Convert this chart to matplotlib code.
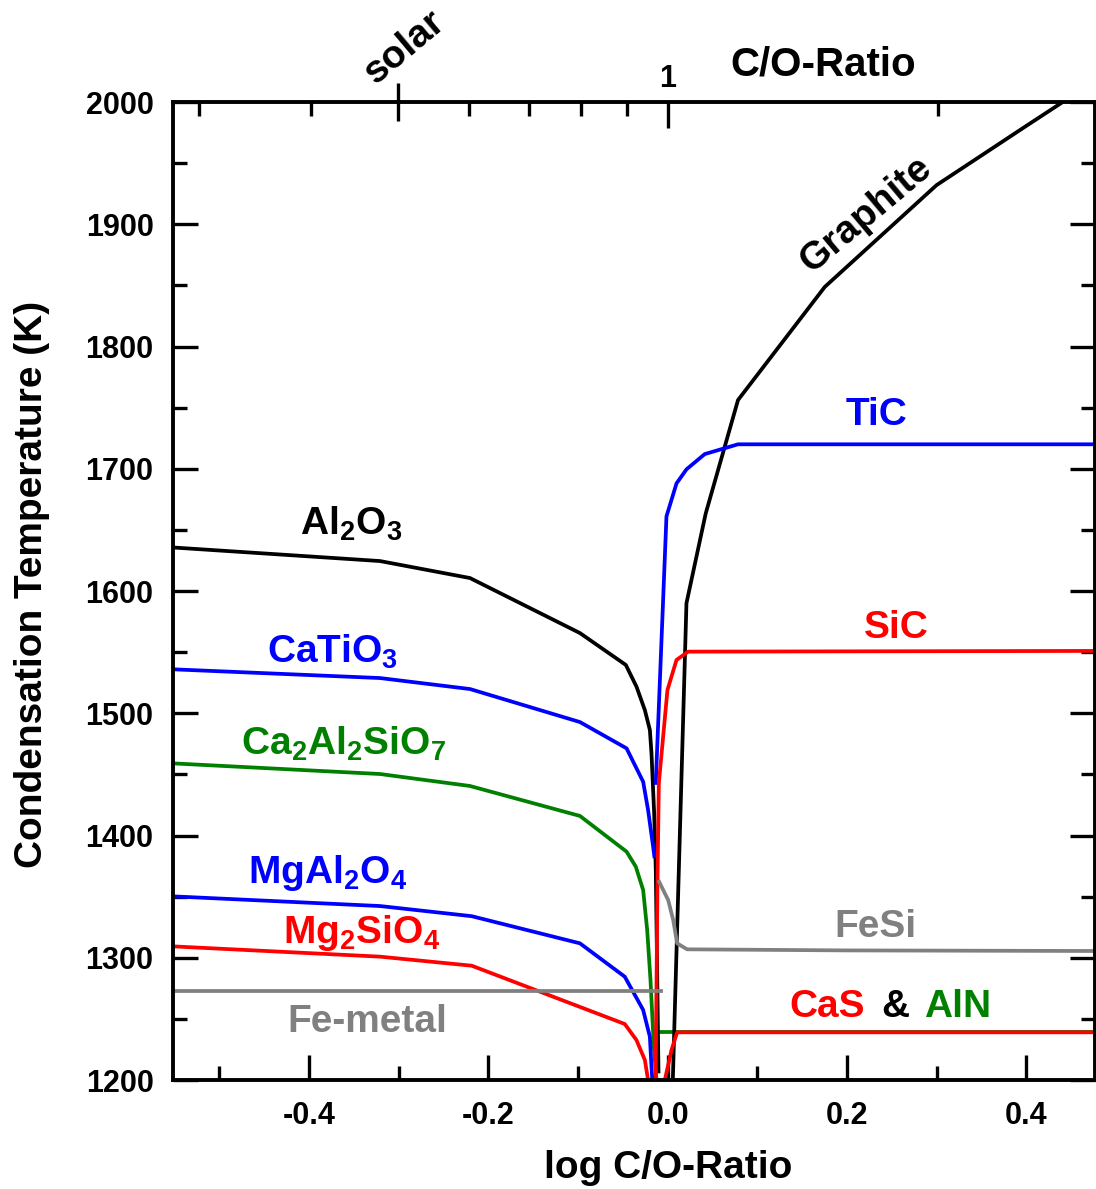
import matplotlib
matplotlib.use('Agg')
import matplotlib.pyplot as plt
from matplotlib.ticker import MultipleLocator, FixedLocator, FuncFormatter, NullFormatter
import numpy as np

plt.rcParams['font.family'] = ['Liberation Sans', 'DejaVu Sans']
plt.rcParams['font.weight'] = 'bold'
plt.rcParams['mathtext.fontset'] = 'custom'
plt.rcParams['mathtext.rm'] = 'Liberation Sans:bold'
plt.rcParams['mathtext.bf'] = 'Liberation Sans:bold'
plt.rcParams['mathtext.it'] = 'Liberation Sans:bold'
plt.rcParams['mathtext.default'] = 'bf'

# ---------------- data (log C/O, condensation temperature K) ----------------
al2o3_x = [-0.56, -0.321, -0.2206, -0.098, -0.0468, -0.0349, -0.0256, -0.020, -0.0182, -0.0152, -0.0134, -0.0104]
al2o3_T = [1636, 1624.5, 1610.6, 1565.6, 1539.5, 1521.7, 1502.6, 1486.3, 1467.2, 1418, 1371.8, 1207]

catio3_x = [-0.56, -0.321, -0.2206, -0.098, -0.046, -0.0368, -0.0275, -0.022, -0.0164, -0.0150]
catio3_T = [1536.2, 1528.8, 1519.8, 1492.8, 1471.3, 1457.7, 1444, 1420.9, 1391, 1383]

ca2al2sio7_x = [-0.56, -0.321, -0.2206, -0.098, -0.046, -0.0357, -0.0275, -0.0230, -0.0193, -0.0156, -0.0126]
ca2al2sio7_T = [1459.3, 1450.3, 1440.5, 1416, 1386.8, 1374.5, 1355.4, 1322.7, 1281.8, 1227.3, 1200]

mgal2o4_x = [-0.56, -0.321, -0.2187, -0.098, -0.048, -0.0275, -0.020, -0.018, -0.0172]
mgal2o4_T = [1350.5, 1342.3, 1334, 1311.8, 1284.5, 1257.3, 1235.4, 1208, 1200]

mg2sio4_x = [-0.56, -0.321, -0.2187, -0.048, -0.035, -0.0256, -0.022]
mg2sio4_T = [1309.6, 1300.9, 1293.5, 1245.8, 1232.7, 1216.4, 1200]

femetal_x = [-0.56, -0.008]
femetal_T = [1273, 1273]

graphite_x = [0.0056, 0.0208, 0.0423, 0.0783, 0.175, 0.2997, 0.398, 0.4405]
graphite_T = [1200, 1590, 1663.5, 1756.2, 1848.7, 1932, 1979.6, 2000]

tic_x = [-0.0134, -0.0015, 0.0097, 0.0208, 0.0412, 0.0783, 0.49]
tic_T = [1443, 1661, 1688, 1699.5, 1712, 1720, 1720]

sic_x = [-0.0136, -0.0115, -0.0100, -0.0004, 0.0097, 0.0227, 0.49]
sic_T = [1200, 1363.6, 1442.7, 1519, 1543.6, 1550.4, 1551]

fesi_x = [-0.0097, 0.0004, 0.006, 0.0104, 0.0215, 0.2, 0.49]
fesi_T = [1362.2, 1347.2, 1330.9, 1311.8, 1306.9, 1306, 1305.5]

aln_x = [-0.0108, 0.49]
aln_T = [1239, 1239]

cas_x = [-0.0033, 0.0041, 0.0104, 0.49]
cas_T = [1200, 1224.5, 1239, 1239]

xticks_major = [-0.4, -0.2, 0.0, 0.2, 0.4]
co_minor = [0.3, 0.4, 0.6, 0.7, 0.8, 0.9, 2.0]
co_solar = 0.5
co_one = 1.0

BLACK, BLUE, RED, GREEN, GRAY = '#000000', '#0000FF', '#FF0000', '#008000', '#808080'
LW = 2.7

fig = plt.figure(figsize=(10.96, 11.89), dpi=100)
ax = fig.add_axes([173/1096, 1-1080/1189, (1095-173)/1096, 978/1189])

ax.plot(aln_x, aln_T, color=GREEN, lw=LW)
ax.plot(al2o3_x, al2o3_T, color=BLACK, lw=LW)
ax.plot(catio3_x, catio3_T, color=BLUE, lw=LW)
ax.plot(ca2al2sio7_x, ca2al2sio7_T, color=GREEN, lw=LW)
ax.plot(mgal2o4_x, mgal2o4_T, color=BLUE, lw=LW)
ax.plot(mg2sio4_x, mg2sio4_T, color=RED, lw=LW)
ax.plot(graphite_x, graphite_T, color=BLACK, lw=LW)
ax.plot(tic_x, tic_T, color=BLUE, lw=LW)
ax.plot(sic_x, sic_T, color=RED, lw=LW)
ax.plot(cas_x, cas_T, color=RED, lw=LW)
ax.plot(femetal_x, femetal_T, color=GRAY, lw=LW)
ax.plot(fesi_x, fesi_T, color=GRAY, lw=LW)

ax.set_xlim(-0.5518, 0.4764)
ax.set_ylim(1200, 2000)

for s in ax.spines.values():
    s.set_linewidth(2.8)

ax.xaxis.set_major_locator(FixedLocator(xticks_major))
ax.xaxis.set_minor_locator(MultipleLocator(0.1))
ax.xaxis.set_major_formatter(FuncFormatter(lambda v, p: f'{v + 0.0:.1f}' if abs(v) > 1e-9 else '0.0'))
ax.yaxis.set_major_locator(MultipleLocator(100))
ax.yaxis.set_minor_locator(MultipleLocator(50))
ax.tick_params(axis='both', which='major', direction='in', length=18, width=2.4,
               labelsize=22, top=False, right=True)
ax.tick_params(axis='both', which='minor', direction='in', length=10, width=2.4,
               top=False, right=True)
ax.tick_params(axis='y', which='major', pad=14)
ax.tick_params(axis='x', which='major', pad=15)

ax.set_xlabel('log C/O-Ratio', fontsize=28, fontweight='bold')
ax.xaxis.set_label_coords((668-173)/922, (1080-1168)/978)
ax.xaxis.label.set_verticalalignment('center')
ax.set_ylabel('Condensation Temperature (K)', fontsize=28, fontweight='bold')
ax.yaxis.set_label_coords((32-173)/922, (1080-584)/978)
ax.yaxis.label.set_verticalalignment('center')

# top axis: C/O ratio
ax2 = ax.twiny()
ax2.set_xlim(ax.get_xlim())
ax2.xaxis.set_major_locator(FixedLocator([np.log10(co_one)]))
ax2.xaxis.set_major_formatter(FuncFormatter(lambda v, p: '1'))
ax2.xaxis.set_minor_locator(FixedLocator(list(np.log10(co_minor))))
ax2.xaxis.set_minor_formatter(NullFormatter())
ax2.tick_params(axis='x', which='major', direction='in', length=19, width=2.4, labelsize=22, pad=6)
ax2.tick_params(axis='x', which='minor', direction='in', length=10, width=2.4)
for s in ax2.spines.values():
    s.set_visible(False)
ax2.set_xlabel('C/O-Ratio', fontsize=29, fontweight='bold')
ax2.xaxis.set_label_coords((823-173)/922, (1080-64)/978)
ax2.xaxis.label.set_verticalalignment('center')

ax3 = ax.twiny()
ax3.set_xlim(ax.get_xlim())
ax3.xaxis.set_major_locator(FixedLocator([np.log10(co_solar)]))
ax3.xaxis.set_major_formatter(NullFormatter())
ax3.tick_params(axis='x', which='major', direction='inout', length=28, width=2.4)
for s in ax3.spines.values():
    s.set_visible(False)
ax3.text(-0.2929, (1080-47)/978, 'solar', transform=ax3.get_xaxis_transform(),
         rotation=40, rotation_mode='anchor', ha='center', va='center',
         fontsize=28, fontweight='bold', clip_on=False)

# inline labels
FS = 28
def lab(x, y, s, c, **kw):
    ax.text(x, y, s, color=c, fontsize=FS, fontweight='bold', ha='center', va='baseline', **kw)

lab(-0.353, 1645.8, r'$Al_2O_3$', BLACK)
lab(-0.3737, 1541, r'$CaTiO_3$', BLUE)
lab(-0.3616, 1465.9, r'$Ca_2Al_2SiO_7$', GREEN)
lab(-0.3793, 1360.9, r'$MgAl_2O_4$', BLUE)
lab(-0.3411, 1311.8, r'$Mg_2SiO_4$', RED)
lab(-0.3347, 1239.3, 'Fe-metal', GRAY)
lab(0.233, 1735.8, 'TiC', BLUE)
lab(0.2553, 1561.3, 'SiC', RED)
lab(0.232, 1317.2, 'FeSi', GRAY)
lab(0.1782, 1251.8, 'CaS', RED)
lab(0.2534, 1251.8, '&', BLACK)
lab(0.3231, 1251.8, 'AlN', GREEN)
ax.text(0.2211, 1907.6, 'Graphite', color=BLACK, fontsize=FS, fontweight='bold',
        rotation=40, rotation_mode='anchor', ha='center', va='center')

fig.savefig('out.png', dpi=100)
